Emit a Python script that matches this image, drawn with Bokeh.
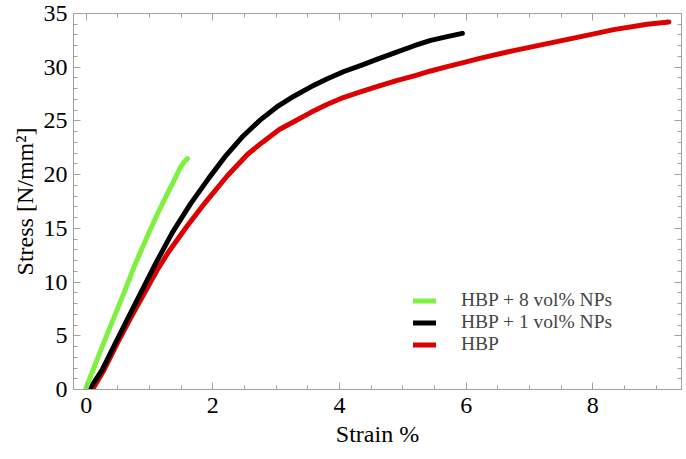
from bokeh.plotting import figure
from bokeh.models import (LinearAxis, SingleIntervalTicker, Legend, LegendItem,
                          Range1d, CustomJSTickFormatter)
from bokeh.embed import file_html
from bokeh.resources import INLINE

# HBP + 8 vol% NPs
green_x = [-0.01, 0.147, 0.357, 0.57, 0.78, 0.99, 1.11, 1.23, 1.40, 1.49, 1.55, 1.60]
green_y = [0.0, 2.4, 5.5, 8.6, 11.75, 14.6, 16.15, 17.6, 19.6, 20.7, 21.2, 21.5]

# HBP + 1 vol% NPs
black_x = [0.05, 0.25, 0.46, 0.67, 0.88, 1.09, 1.36, 1.65, 1.94, 2.21, 2.48, 2.75,
           3.01, 3.28, 3.54, 3.80, 4.07, 4.33, 4.60, 4.88, 5.18, 5.44, 5.70, 5.94]
black_y = [0.0, 1.8, 4.3, 6.75, 9.2, 11.65, 14.6, 17.3, 19.7, 21.8, 23.6, 25.1,
           26.3, 27.3, 28.15, 28.9, 29.6, 30.15, 30.75, 31.35, 32.0, 32.5, 32.85, 33.15]

# HBP
red_x = [0.10, 0.28, 0.49, 0.71, 0.94, 1.12, 1.30, 1.58, 1.88, 2.23, 2.55, 2.78,
         3.05, 3.30, 3.55, 3.81, 4.07, 4.33, 4.59, 4.90, 5.18, 5.44, 5.70, 5.97,
         6.23, 6.75, 7.28, 7.81, 8.33, 8.86, 9.20]
red_y = [0.0, 1.8, 4.3, 6.75, 9.2, 11.1, 12.8, 15.1, 17.4, 19.9, 21.9, 23.0,
         24.2, 25.0, 25.8, 26.55, 27.2, 27.7, 28.2, 28.75, 29.2, 29.65, 30.05, 30.45,
         30.85, 31.55, 32.2, 32.85, 33.5, 34.0, 34.2]

labels = ["HBP + 8 vol% NPs", "HBP + 1 vol% NPs", "HBP"]
colors = ["#80f040", "#000000", "#dd0000"]
x_label = "Strain %"
y_label = "Stress [N/mm²]"

FONT = "Liberation Serif"
AX = "#a0a0a0"

p = figure(width=686, height=459, output_backend="svg", toolbar_location=None,
           x_range=Range1d(-0.2, 9.4), y_range=Range1d(0, 35),
           min_border_left=73, min_border_right=5, min_border_top=13,
           min_border_bottom=70, x_axis_label=x_label, y_axis_label=y_label)
p.outline_line_color = None
p.grid.visible = False
p.background_fill_color = "white"
p.border_fill_color = "white"

r_red = p.line(red_x, red_y, line_color=colors[2], line_width=5, line_cap="round", line_join="round")
r_black = p.line(black_x, black_y, line_color=colors[1], line_width=5, line_cap="round", line_join="round")
r_green = p.line(green_x, green_y, line_color=colors[0], line_width=5, line_cap="round", line_join="round")

p.xaxis.ticker = SingleIntervalTicker(interval=2, num_minor_ticks=4)
p.yaxis.ticker = SingleIntervalTicker(interval=5, num_minor_ticks=5)

def style(ax):
    ax.axis_line_color = AX
    ax.major_tick_line_color = AX
    ax.minor_tick_line_color = AX
    ax.major_tick_in = 7
    ax.major_tick_out = 0
    ax.minor_tick_in = 4
    ax.minor_tick_out = 0
    ax.major_label_text_font = FONT
    ax.major_label_text_font_size = "24px"
    ax.major_label_text_color = "black"
    ax.axis_label_text_font = FONT
    ax.axis_label_text_font_size = "24px"
    ax.axis_label_text_font_style = "normal"
    ax.axis_label_text_color = "black"

for ax in p.xaxis:
    style(ax)
    ax.major_label_standoff = 8
    ax.axis_label_standoff = 5
for ax in p.yaxis:
    style(ax)
    ax.major_label_standoff = 6
    ax.axis_label_standoff = 3

blank = CustomJSTickFormatter(code="return ''")
top = LinearAxis(ticker=SingleIntervalTicker(interval=2, num_minor_ticks=4), formatter=blank)
right = LinearAxis(ticker=SingleIntervalTicker(interval=5, num_minor_ticks=5), formatter=blank)
for ax in (top, right):
    style(ax)
    ax.major_label_standoff = 0
    ax.major_label_text_font_size = "0px"
p.add_layout(top, "above")
p.add_layout(right, "right")

legend = Legend(items=[LegendItem(label=labels[0], renderers=[r_green]),
                       LegendItem(label=labels[1], renderers=[r_black]),
                       LegendItem(label=labels[2], renderers=[r_red])],
                location=(340, 34))
legend.border_line_color = None
legend.background_fill_alpha = 0
legend.padding = 0
legend.margin = 0
legend.spacing = 0
legend.glyph_height = 21
legend.label_height = 21
legend.glyph_width = 23
legend.label_standoff = 25
legend.label_text_font = FONT
legend.label_text_font_size = "19.5px"
p.add_layout(legend)

open("out.html", "w").write(file_html(p, INLINE))
